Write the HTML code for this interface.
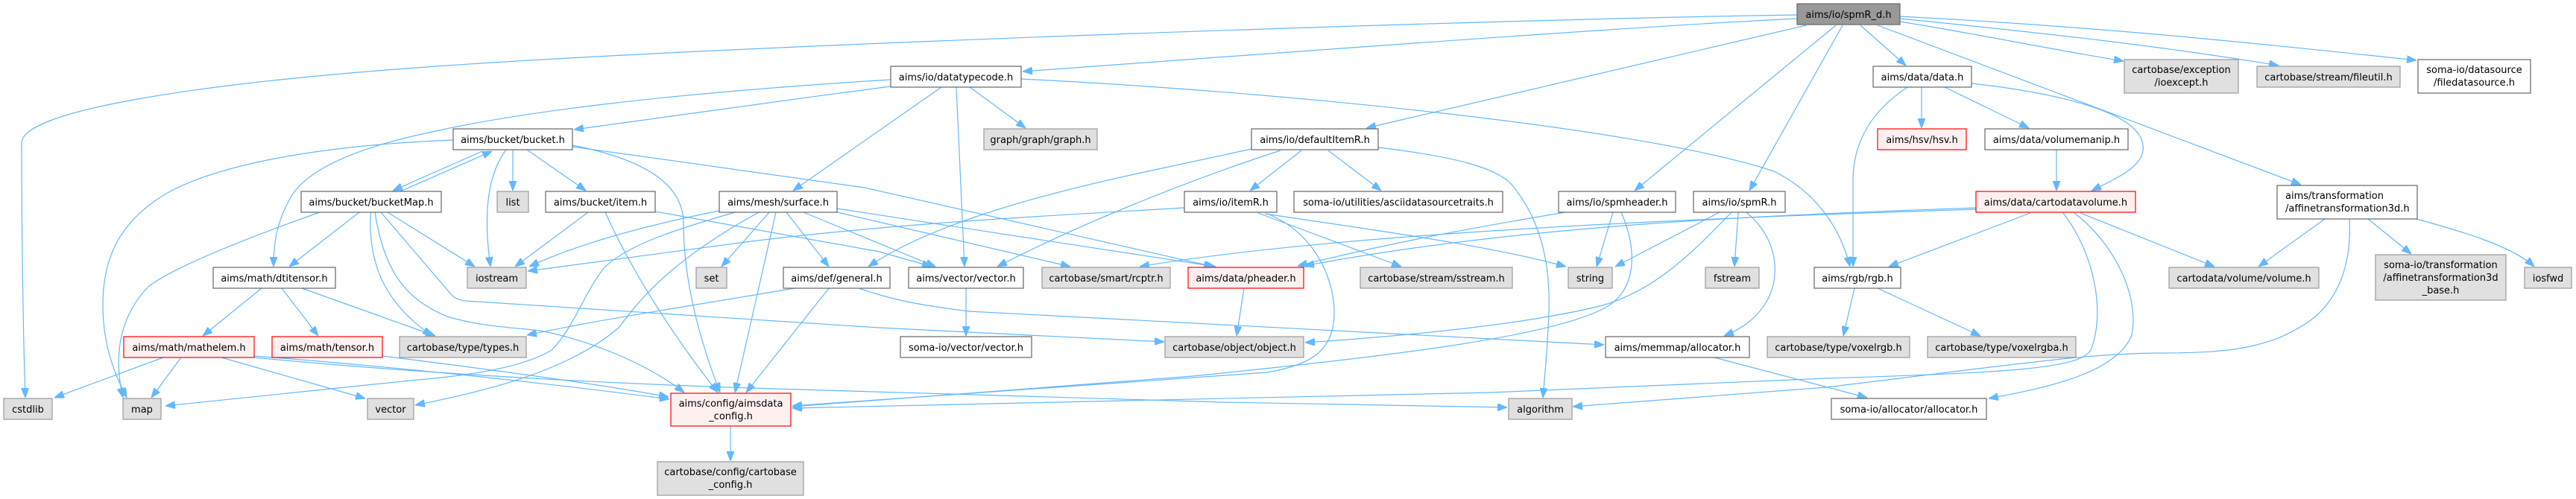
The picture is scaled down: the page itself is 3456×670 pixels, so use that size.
<!DOCTYPE html>
<html><head><meta charset="utf-8"><style>
html,body{margin:0;padding:0;background:#fff;}
svg{display:block;}
text{font-family:"DejaVu Sans","Liberation Sans",sans-serif;font-size:13px;fill:#000;}
.e{fill:none;stroke:#63b8ff;stroke-width:1.2;marker-end:url(#ah);}
.w{fill:#fff;stroke:#666;stroke-width:1.2;}
.g{fill:#e0e0e0;stroke:#999;stroke-width:1.2;}
.r{fill:#fff0f0;stroke:#ff0000;stroke-width:1.2;}
.k{fill:#999;stroke:#666;stroke-width:1.2;}
</style></head><body>
<svg width="3456" height="670" viewBox="0 0 3456 670" xmlns="http://www.w3.org/2000/svg">
<defs>
<marker id="ah" viewBox="0 0 13 10" refX="13" refY="5" markerWidth="13" markerHeight="10" orient="auto" markerUnits="userSpaceOnUse">
<path d="M0,0L13,5L0,10z" fill="#63b8ff" stroke="#63b8ff" stroke-width="1"/>
</marker>
</defs>
<rect width="3456" height="670" fill="#fff"/>
<g>
<path class="e" d="M2411,20 C2000,26 1000,60 600,88 C250,112 29,150 29,192 C29,300 31,450 34,534"/>
<path class="e" d="M2411,25 C2200,35 1800,65 1372,96"/>
<path class="e" d="M2423,34 L1833,172"/>
<path class="e" d="M2463,34 L2193,256"/>
<path class="e" d="M2472,34 L2347,256"/>
<path class="e" d="M2496,34 L2557,88"/>
<path class="e" d="M2549,29 C2650,45 2760,68 2849,82"/>
<path class="e" d="M2549,25 C2750,45 2900,62 3057,88"/>
<path class="e" d="M2549,22 C2800,35 3000,55 3242,81"/>
<path class="e" d="M2519,34 L3087,248"/>
<path class="e" d="M1195,116 C1050,135 900,155 770,174"/>
<path class="e" d="M1195,107 C900,125 700,150 580,177 C470,200 410,230 390,265 C370,300 367,330 367,358"/>
<path class="e" d="M1263,117 L1064,256"/>
<path class="e" d="M1283,117 L1294,358"/>
<path class="e" d="M1301,117 L1376,172"/>
<path class="e" d="M1370,106 C1700,122 2200,170 2380,230 C2440,260 2470,310 2482,358"/>
<path class="e" d="M608,188 C430,195 300,220 230,256 C150,300 138,360 138,410 C138,470 158,510 170,534"/>
<path class="e" d="M679,201 C650,240 650,300 658,358"/>
<path class="e" d="M688,201 L688,256"/>
<path class="e" d="M707,201 L786,256"/>
<path class="e" d="M768,195 C870,215 917,250 917,300 C917,380 940,460 966,527"/>
<path class="e" d="M768,197 C900,215 1000,230 1160,252 L1628,358"/>
<path class="e" d="M647,203 L527,256"/>
<path class="e" d="M537,257 L660,203"/>
<path class="e" d="M429,285 C330,320 230,360 199,385 C165,420 150,470 165,534"/>
<path class="e" d="M482,285 L388,358"/>
<path class="e" d="M497,285 C495,340 505,400 580,451"/>
<path class="e" d="M503,285 C515,360 540,400 600,425 C650,440 700,440 730,445 C800,460 870,490 918,527"/>
<path class="e" d="M511,285 L605,395 Q612,403 625,404 L1180,440 L1562,459"/>
<path class="e" d="M520,285 L637,358"/>
<path class="e" d="M789,285 L691,358"/>
<path class="e" d="M812,285 C850,370 910,460 963,527"/>
<path class="e" d="M879,284 L1180,338 L1250,358"/>
<path class="e" d="M965,283 C880,300 780,325 710,358"/>
<path class="e" d="M986,285 C900,310 840,330 810,360 C780,400 770,440 740,470 C700,495 620,505 560,510 L222,545"/>
<path class="e" d="M1018,285 C900,350 860,400 830,440 C760,500 650,525 557,544"/>
<path class="e" d="M1032,285 L968,358"/>
<path class="e" d="M1041,285 L986,527"/>
<path class="e" d="M1055,285 L1112,358"/>
<path class="e" d="M1078,285 L1255,358"/>
<path class="e" d="M1123,285 L1436,358"/>
<path class="e" d="M1123,280 L1631,358"/>
<path class="e" d="M1066,387 C900,415 800,430 707,450"/>
<path class="e" d="M1112,387 L1001,527"/>
<path class="e" d="M1152,387 C1190,400 1220,408 1300,418 L2152,463"/>
<path class="e" d="M1296,387 L1296,451"/>
<path class="e" d="M1669,387 L1659,451"/>
<path class="e" d="M1679,200 L1540,230 C1400,260 1250,300 1165,358"/>
<path class="e" d="M1718,202 C1600,240 1450,300 1338,358"/>
<path class="e" d="M1746,202 L1677,256"/>
<path class="e" d="M1782,202 L1853,256"/>
<path class="e" d="M1849,198 C1950,210 2010,225 2030,250 C2070,300 2080,360 2078,420 C2076,470 2072,510 2070,534"/>
<path class="e" d="M1589,279 C1400,290 1200,300 1000,325 L708,364"/>
<path class="e" d="M1688,286 L1880,358"/>
<path class="e" d="M1697,287 C1850,310 2000,330 2101,358"/>
<path class="e" d="M1700,287 C1760,310 1790,370 1790,420 C1790,470 1760,490 1700,500 L1063,545"/>
<path class="e" d="M2100,285 C1950,310 1850,330 1741,357"/>
<path class="e" d="M2164,285 L2142,358"/>
<path class="e" d="M2175,285 C2195,330 2200,390 2150,415 C2080,450 1900,475 1600,505 L1063,546"/>
<path class="e" d="M2307,285 L2167,358"/>
<path class="e" d="M2323,285 C2270,340 2220,390 2150,410 C2050,435 1900,450 1751,460"/>
<path class="e" d="M2332,285 L2327,358"/>
<path class="e" d="M2343,285 C2385,320 2390,370 2370,405 C2355,430 2335,442 2313,451"/>
<path class="e" d="M2300,480 L2505,534"/>
<path class="e" d="M2559,117 C2510,150 2487,190 2486,240 L2486,358"/>
<path class="e" d="M2578,117 L2578,172"/>
<path class="e" d="M2609,117 L2722,172"/>
<path class="e" d="M2645,112 C2760,125 2870,150 2875,195 C2878,220 2850,235 2806,256"/>
<path class="e" d="M2759,201 L2759,256"/>
<path class="e" d="M2651,279 C2400,288 2050,300 1750,357"/>
<path class="e" d="M2651,281 C2300,292 1800,312 1529,358"/>
<path class="e" d="M2724,286 L2534,358"/>
<path class="e" d="M2768,286 C2810,340 2825,420 2805,470 C2790,495 2700,500 2450,508 L2000,527 L1063,548"/>
<path class="e" d="M2783,286 C2840,330 2870,400 2860,450 C2840,500 2750,520 2668,535"/>
<path class="e" d="M2791,286 L2971,358"/>
<path class="e" d="M3119,294 L3030,358"/>
<path class="e" d="M3152,294 C3155,350 3140,400 3100,430 C3050,465 3000,474 2900,474 C2800,474 2700,490 2450,520 L2110,546"/>
<path class="e" d="M3177,294 L3235,341"/>
<path class="e" d="M3242,294 C3300,310 3370,330 3400,358"/>
<path class="e" d="M2488,387 L2473,451"/>
<path class="e" d="M2519,387 L2657,451"/>
<path class="e" d="M351,387 L272,451"/>
<path class="e" d="M378,387 L427,451"/>
<path class="e" d="M405,387 L584,451"/>
<path class="e" d="M219,480 L73,534"/>
<path class="e" d="M243,480 L203,534"/>
<path class="e" d="M297,480 L490,535"/>
<path class="e" d="M341,478 C500,490 700,510 898,536"/>
<path class="e" d="M341,480 C550,500 800,515 1040,522 L1640,540 L2022,547"/>
<path class="e" d="M513,478 C650,495 800,515 897,533"/>
<path class="e" d="M980,572 L980,619"/>
</g>
<g text-anchor="middle">
<rect class="k" x="2411" y="5" width="138" height="28"/><text x="2480" y="24">aims/io/spmR_d.h</text>
<rect class="w" x="1195" y="89" width="175" height="28"/><text x="1282.5" y="108">aims/io/datatypecode.h</text>
<rect class="w" x="2513" y="89" width="132" height="28"/><text x="2579" y="108">aims/data/data.h</text>
<rect class="g" x="2850" y="80" width="153" height="45"/><text x="2926.5" y="98">cartobase/exception</text><text x="2926.5" y="115">/ioexcept.h</text>
<rect class="g" x="3028" y="89" width="192" height="28"/><text x="3124" y="108">cartobase/stream/fileutil.h</text>
<rect class="w" x="3244" y="80" width="151" height="45"/><text x="3319.5" y="98">soma-io/datasource</text><text x="3319.5" y="115">/filedatasource.h</text>
<rect class="w" x="608" y="173" width="160" height="28"/><text x="688" y="192">aims/bucket/bucket.h</text>
<rect class="g" x="1320" y="173" width="152" height="28"/><text x="1396" y="192">graph/graph/graph.h</text>
<rect class="w" x="1679" y="173" width="170" height="28"/><text x="1764" y="192">aims/io/defaultItemR.h</text>
<rect class="r" x="2519" y="173" width="119" height="28"/><text x="2578.5" y="192">aims/hsv/hsv.h</text>
<rect class="w" x="2663" y="173" width="192" height="28"/><text x="2759" y="192">aims/data/volumemanip.h</text>
<rect class="w" x="404" y="257" width="188" height="28"/><text x="498" y="276">aims/bucket/bucketMap.h</text>
<rect class="g" x="667" y="257" width="42" height="28"/><text x="688" y="276">list</text>
<rect class="w" x="732" y="257" width="147" height="28"/><text x="805.5" y="276">aims/bucket/item.h</text>
<rect class="w" x="965" y="257" width="158" height="28"/><text x="1044" y="276">aims/mesh/surface.h</text>
<rect class="w" x="1589" y="257" width="124" height="28"/><text x="1651" y="276">aims/io/itemR.h</text>
<rect class="w" x="1736" y="257" width="280" height="28"/><text x="1876" y="276">soma-io/utilities/asciidatasourcetraits.h</text>
<rect class="w" x="2091" y="257" width="157" height="28"/><text x="2169.5" y="276">aims/io/spmheader.h</text>
<rect class="w" x="2272" y="257" width="123" height="28"/><text x="2333.5" y="276">aims/io/spmR.h</text>
<rect class="r" x="2651" y="257" width="214" height="28"/><text x="2758" y="276">aims/data/cartodatavolume.h</text>
<rect class="w" x="3055" y="249" width="188" height="45"/><text x="3066" y="267" text-anchor="start">aims/transformation</text><text x="3066" y="284" text-anchor="start">/affinetransformation3d.h</text>
<rect class="w" x="286" y="359" width="164" height="28"/><text x="368" y="378">aims/math/dtitensor.h</text>
<rect class="g" x="627" y="359" width="79" height="28"/><text x="666.5" y="378">iostream</text>
<rect class="g" x="934" y="359" width="41" height="28"/><text x="954.5" y="378">set</text>
<rect class="w" x="1051" y="359" width="143" height="28"/><text x="1122.5" y="378">aims/def/general.h</text>
<rect class="w" x="1219" y="359" width="154" height="28"/><text x="1296" y="378">aims/vector/vector.h</text>
<rect class="g" x="1398" y="359" width="172" height="28"/><text x="1484" y="378">cartobase/smart/rcptr.h</text>
<rect class="r" x="1594" y="359" width="155" height="28"/><text x="1671.5" y="378">aims/data/pheader.h</text>
<rect class="g" x="1825" y="359" width="204" height="28"/><text x="1927" y="378">cartobase/stream/sstream.h</text>
<rect class="g" x="2104" y="359" width="59" height="28"/><text x="2133.5" y="378">string</text>
<rect class="g" x="2288" y="359" width="72" height="28"/><text x="2324" y="378">fstream</text>
<rect class="w" x="2434" y="359" width="116" height="28"/><text x="2492" y="378">aims/rgb/rgb.h</text>
<rect class="g" x="2910" y="359" width="201" height="28"/><text x="3010.5" y="378">cartodata/volume/volume.h</text>
<rect class="g" x="3187" y="342" width="175" height="61"/><text x="3274.5" y="360">soma-io/transformation</text><text x="3274.5" y="377">/affinetransformation3d</text><text x="3274.5" y="394">_base.h</text>
<rect class="g" x="3387" y="359" width="63" height="28"/><text x="3418.5" y="378">iosfwd</text>
<rect class="r" x="166" y="452" width="175" height="28"/><text x="253.5" y="471">aims/math/mathelem.h</text>
<rect class="r" x="365" y="452" width="148" height="28"/><text x="439" y="471">aims/math/tensor.h</text>
<rect class="g" x="536" y="452" width="170" height="28"/><text x="621" y="471">cartobase/type/types.h</text>
<rect class="w" x="1208" y="452" width="176" height="28"/><text x="1296" y="471">soma-io/vector/vector.h</text>
<rect class="g" x="1563" y="452" width="186" height="28"/><text x="1656" y="471">cartobase/object/object.h</text>
<rect class="w" x="2154" y="452" width="193" height="28"/><text x="2250.5" y="471">aims/memmap/allocator.h</text>
<rect class="g" x="2371" y="452" width="191" height="28"/><text x="2466.5" y="471">cartobase/type/voxelrgb.h</text>
<rect class="g" x="2586" y="452" width="199" height="28"/><text x="2685.5" y="471">cartobase/type/voxelrgba.h</text>
<rect class="g" x="5" y="535" width="65" height="28"/><text x="37.5" y="554">cstdlib</text>
<rect class="g" x="165" y="535" width="51" height="28"/><text x="190.5" y="554">map</text>
<rect class="g" x="493" y="535" width="62" height="28"/><text x="524" y="554">vector</text>
<rect class="r" x="900" y="528" width="161" height="44"/><text x="980.5" y="546">aims/config/aimsdata</text><text x="980.5" y="563">_config.h</text>
<rect class="g" x="2024" y="535" width="85" height="28"/><text x="2066.5" y="554">algorithm</text>
<rect class="w" x="2457" y="535" width="208" height="28"/><text x="2561" y="554">soma-io/allocator/allocator.h</text>
<rect class="g" x="882" y="620" width="196" height="45"/><text x="980" y="638">cartobase/config/cartobase</text><text x="980" y="655">_config.h</text>
</g>
</svg>
</body></html>
